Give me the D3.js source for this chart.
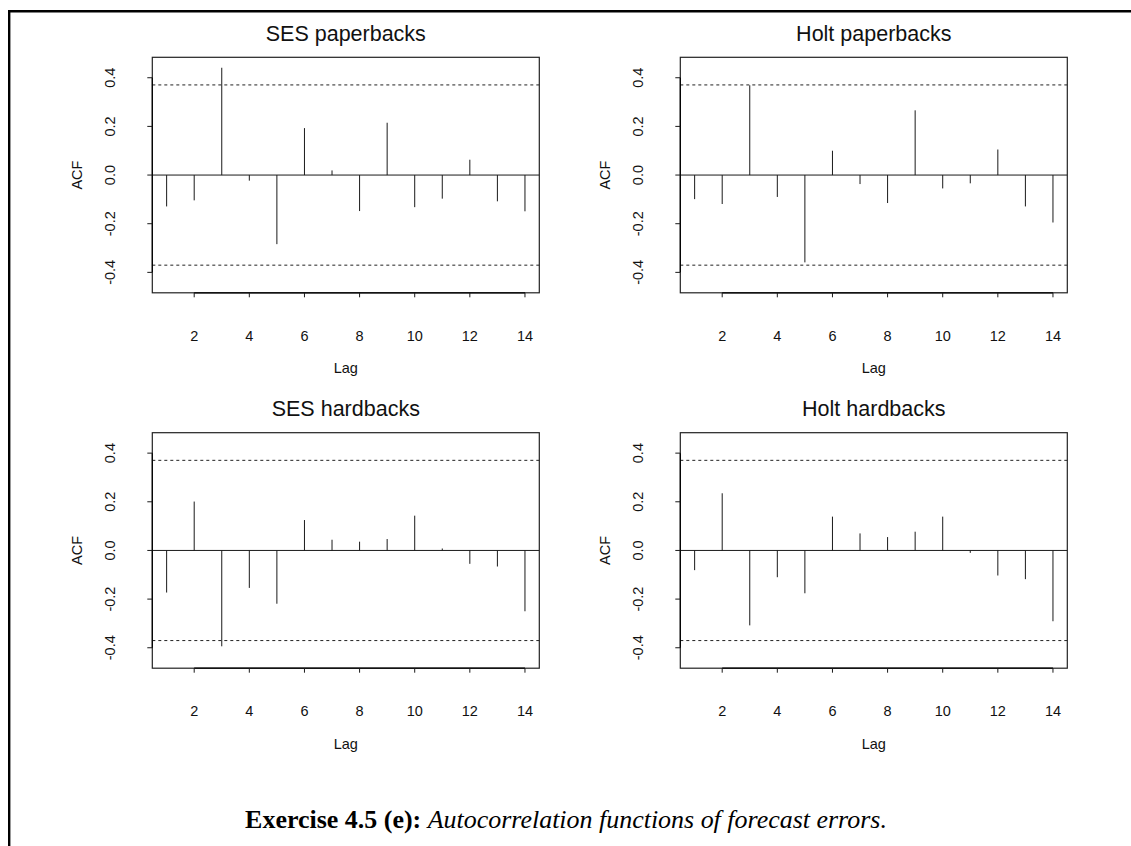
<!DOCTYPE html>
<html>
<head>
<meta charset="utf-8">
<script src="https://cdn.jsdelivr.net/npm/d3@7"></script>
<style>
  body { margin: 0; background: #fff; }
  svg { display: block; }
</style>
</head>
<body>
<svg id="fig" width="1131" height="846"></svg>
<script>
// Lags shown on every correlogram
const lags = [1, 2, 3, 4, 5, 6, 7, 8, 9, 10, 11, 12, 13, 14];

// Autocorrelations of the one-step forecast errors
const sesPaperbacks  = [-0.129, -0.104, 0.441, -0.023, -0.284, 0.193, 0.019, -0.148, 0.215, -0.132, -0.097, 0.063, -0.108, -0.149];
const holtPaperbacks = [-0.099, -0.119, 0.369, -0.090, -0.359, 0.100, -0.037, -0.115, 0.266, -0.055, -0.034, 0.105, -0.129, -0.195];
const sesHardbacks   = [-0.173, 0.201, -0.394, -0.154, -0.219, 0.125, 0.044, 0.036, 0.047, 0.143, 0.008, -0.055, -0.066, -0.250];
const holtHardbacks  = [-0.081, 0.235, -0.308, -0.110, -0.176, 0.139, 0.070, 0.055, 0.077, 0.139, -0.010, -0.103, -0.118, -0.291];

// Panel titles, in reading order
const titles = ["SES paperbacks", "Holt paperbacks", "SES hardbacks", "Holt hardbacks"];

// Approximate 95% bounds for white noise (n = 28): 1.96 / sqrt(28)
const bound = 0.3704;

// Axis ticks
const xTicks = [2, 4, 6, 8, 10, 12, 14];
const yTicks = [-0.4, -0.2, 0.0, 0.2, 0.4];
const yTickLabels = ["-0.4", "-0.2", "0.0", "0.2", "0.4"];

const caption = { bold: "Exercise 4.5 (e):", italic: "Autocorrelation functions of forecast errors." };

const svg = d3.select("#fig");
const sans = "'Liberation Sans', Arial, Helvetica, sans-serif";
const ink = "#1a1a1a";

// Page frame: rule along the top and the left
svg.append("line").attr("x1", 8).attr("x2", 1131).attr("y1", 11.2).attr("y2", 11.2)
  .attr("stroke", "#000").attr("stroke-width", 2.4);
svg.append("line").attr("x1", 9.2).attr("x2", 9.2).attr("y1", 10).attr("y2", 846)
  .attr("stroke", "#000").attr("stroke-width", 2.4);

// 2 x 2 layout of plot regions
const plotW = 387, plotH = 235.5;
const colLeft = [152.3, 680.3];
const rowTop = [57.3, 432.7];
const series = [sesPaperbacks, holtPaperbacks, sesHardbacks, holtHardbacks];

series.forEach((vals, i) => {
  const left = colLeft[i % 2];
  const top = rowTop[Math.floor(i / 2)];
  drawAcf(left, top, titles[i], vals);
});

function drawAcf(left, top, title, vals) {
  const g = svg.append("g");
  const x = d3.scaleLinear().domain([0.48, 14.52]).range([left, left + plotW]);
  const y = d3.scaleLinear().domain([-0.484, 0.484]).range([top + plotH, top]);

  // Title
  g.append("text")
    .attr("x", left + plotW / 2).attr("y", top - 16.6)
    .attr("text-anchor", "middle")
    .attr("font-family", sans).attr("font-size", 21.5)
    .attr("fill", "#111")
    .text(title);

  // Zero line across the plot region
  g.append("line")
    .attr("x1", left).attr("x2", left + plotW)
    .attr("y1", y(0)).attr("y2", y(0))
    .attr("stroke", ink).attr("stroke-width", 1);

  // Confidence bounds
  [bound, -bound].forEach(b => {
    g.append("line")
      .attr("x1", left).attr("x2", left + plotW)
      .attr("y1", y(b)).attr("y2", y(b))
      .attr("stroke", "#222").attr("stroke-width", 1)
      .attr("stroke-dasharray", "3,3");
  });

  // Spikes
  g.selectAll("line.spike").data(vals).join("line")
    .attr("class", "spike")
    .attr("x1", (d, k) => x(lags[k])).attr("x2", (d, k) => x(lags[k]))
    .attr("y1", y(0)).attr("y2", d => y(d))
    .attr("stroke", ink).attr("stroke-width", 1);

  // Box round the plot region
  g.append("rect")
    .attr("x", left).attr("y", top).attr("width", plotW).attr("height", plotH)
    .attr("fill", "none").attr("stroke", "#222").attr("stroke-width", 1.2);

  // Bottom axis: ticks hang below the box, labels well below
  const bottom = top + plotH;
  g.append("line")
    .attr("x1", x(xTicks[0])).attr("x2", x(xTicks[xTicks.length - 1]))
    .attr("y1", bottom).attr("y2", bottom)
    .attr("stroke", "#000").attr("stroke-width", 1.2);
  xTicks.forEach(t => {
    g.append("line")
      .attr("x1", x(t)).attr("x2", x(t))
      .attr("y1", bottom).attr("y2", bottom + 4.5)
      .attr("stroke", ink).attr("stroke-width", 1);
    g.append("text")
      .attr("x", x(t)).attr("y", bottom + 48)
      .attr("text-anchor", "middle")
      .attr("font-family", sans).attr("font-size", 14.5).attr("fill", "#111")
      .text(t);
  });
  g.append("text")
    .attr("x", left + plotW / 2).attr("y", bottom + 80.5)
    .attr("text-anchor", "middle")
    .attr("font-family", sans).attr("font-size", 14.5).attr("fill", "#111")
    .text("Lag");

  // Left axis with rotated labels
  g.append("line")
    .attr("x1", left).attr("x2", left)
    .attr("y1", y(yTicks[0])).attr("y2", y(yTicks[yTicks.length - 1]))
    .attr("stroke", "#000").attr("stroke-width", 1.2);
  yTicks.forEach((t, k) => {
    g.append("line")
      .attr("x1", left - 5).attr("x2", left)
      .attr("y1", y(t)).attr("y2", y(t))
      .attr("stroke", ink).attr("stroke-width", 1);
    const lx = left - 37, ly = y(t);
    g.append("text")
      .attr("transform", `translate(${lx},${ly}) rotate(-90)`)
      .attr("text-anchor", "middle")
      .attr("font-family", sans).attr("font-size", 14.5).attr("fill", "#111")
      .text(yTickLabels[k]);
  });
  const ax = left - 70.8, ay = top + plotH / 2;
  g.append("text")
    .attr("transform", `translate(${ax},${ay}) rotate(-90)`)
    .attr("text-anchor", "middle")
    .attr("font-family", sans).attr("font-size", 14.5).attr("fill", "#111")
    .text("ACF");
}

// Caption below the figure, sized to span its line
const capWidth = 642;
const cap = svg.append("text")
  .attr("x", 566).attr("y", 828)
  .attr("text-anchor", "middle")
  .attr("font-family", "'Liberation Serif', 'DejaVu Serif', serif")
  .attr("font-size", 20)
  .attr("fill", "#000");
cap.append("tspan").attr("font-weight", "bold").text(caption.bold + " ");
cap.append("tspan").attr("font-style", "italic").text(caption.italic);
const measured = cap.node().getComputedTextLength();
if (measured > 0) cap.attr("font-size", 20 * capWidth / measured);
</script>
</body>
</html>
